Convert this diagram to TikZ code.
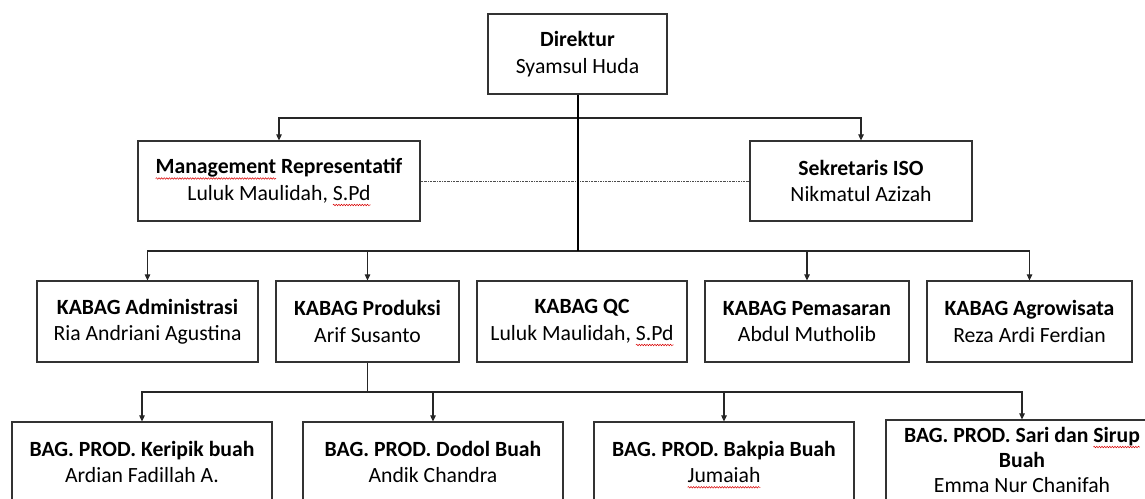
\documentclass[tikz,border=0pt]{standalone}
\usepackage{fontspec}
\setmainfont{Carlito}
\usetikzlibrary{arrows.meta,decorations.pathmorphing}
\newsavebox\spwbox
\newlength\spwwd
\newcommand\spw[1]{\sbox\spwbox{#1}\setlength\spwwd{\wd\spwbox}\usebox\spwbox\tikz[overlay]{\draw[red!85!black, line width=0.5pt, decoration={snake, amplitude=0.8pt, segment length=2.6pt}, decorate] (-\spwwd,-4.5pt) -- (0pt,-4.5pt);}}
\tikzset{
  box/.style={draw=black!80, line width=1.2pt, minimum height=80pt, align=center, inner sep=0pt,
    font=\fontsize{21.7}{26.5}\selectfont, fill=white},
  conn/.style={draw=black!85, line width=1.1pt},
  trunk/.style={draw=black, line width=2pt},
  arr/.style={conn, -{Triangle[width=5.5pt,length=6pt]}},
  dotline/.style={draw=black!70, line width=0.6pt, dash pattern=on 2pt off 1pt on 0.6pt off 1pt}
}
\begin{document}
\begin{tikzpicture}[x=1pt,y=-1pt]
\useasboundingbox (0,0) rectangle (1145,498);
\clip (0,0) rectangle (1145,498);
% top
\node[box, minimum width=179pt] (dir) at (577.5,54) {\textbf{Direktur}\\Syamsul Huda};
\node[box, minimum width=282pt] (mr) at (279,181) {\textbf{\spw{Management} Representatif}\\Luluk Maulidah, \spw{S.Pd}};
\node[box, minimum width=222pt] (sek) at (861,181) {\textbf{Sekretaris ISO}\\Nikmatul Azizah};
% KABAG row
\node[box, minimum width=221pt, minimum height=81pt] (adm) at (147.5,321.5) {\textbf{KABAG Administrasi}\\Ria Andriani Agustina};
\node[box, minimum width=183pt, minimum height=81pt] (prod) at (367.5,321.5) {\textbf{KABAG Produksi}\\Arif Susanto};
\node[box, minimum width=210pt, minimum height=81pt] (qc) at (582,321.5) {\textbf{KABAG QC}\\Luluk Maulidah, \spw{S.Pd}};
\node[box, minimum width=204pt, minimum height=81pt] (pem) at (807,321.5) {\textbf{KABAG Pemasaran}\\Abdul Mutholib};
\node[box, minimum width=205pt, minimum height=81pt] (agro) at (1029.5,321.5) {\textbf{KABAG Agrowisata}\\Reza Ardi Ferdian};
% bottom row
\node[box, minimum width=260pt] (ker) at (142,462) {\textbf{BAG. PROD. Keripik buah}\\Ardian Fadillah A.};
\node[box, minimum width=260pt] (dod) at (433,462) {\textbf{BAG. PROD. Dodol Buah}\\Andik Chandra};
\node[box, minimum width=260pt] (bak) at (724,462) {\textbf{BAG. PROD. Bakpia Buah}\\\spw{Jumaiah}};
\node[box, minimum width=272pt, font=\fontsize{21.7}{25}\selectfont] (sari) at (1022,460) {\textbf{BAG. PROD. Sari dan \spw{Sirup}}\\\textbf{Buah}\\Emma Nur Chanifah};
% connectors
\coordinate (j1) at (dir.south |- 0,118);
\coordinate (j2) at (dir.south |- 0,251);
\draw[arr] (j1) -| (mr.north);
\draw[arr] (j1) -| (sek.north);
\draw[dotline] (mr.east) -- (sek.west);
\draw[arr] (j2) -| (adm.north);
\draw[arr] (j2) -| (prod.north);
\draw[arr] (j2) -| (pem.north);
\draw[arr] (j2) -| (agro.north);
\draw[trunk] (dir.south) -- (j2);
\coordinate (j3) at (prod.south |- 0,392);
\draw[conn] (prod.south) -- (j3);
\draw[arr] (j3) -| (ker.north);
\draw[arr] (j3) -| (dod.north);
\draw[arr] (j3) -| (bak.north);
\draw[arr] (j3) -| (sari.north);
\end{tikzpicture}
\end{document}
